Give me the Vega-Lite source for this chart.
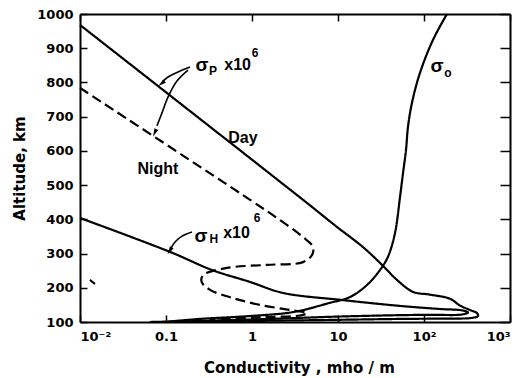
{
  "$schema": "https://vega.github.io/schema/vega-lite/v6.json",
  "width": 430,
  "height": 308,
  "autosize": {"type": "none"},
  "padding": {"left": 80, "top": 14, "right": 16, "bottom": 56},
  "background": "white",
  "config": {
    "view": {"stroke": null},
    "axis": {
      "domainColor": "black", "domainWidth": 2, "tickColor": "black", "tickWidth": 1.5,
      "grid": false, "labelColor": "black", "labelFont": "DejaVu Sans", "labelFontWeight": "bold",
      "labelFontSize": 13, "titleFont": "DejaVu Sans", "titleFontWeight": "bold",
      "titleFontSize": 15, "titleColor": "black"
    }
  },
  "datasets": {
    "curves": [
      {"s": "day", "c": 0.01, "a": 968}, {"s": "day", "c": 3.92, "a": 457}, {"s": "day", "c": 9.7, "a": 378},
      {"s": "day", "c": 19.5, "a": 319}, {"s": "day", "c": 32.5, "a": 267}, {"s": "day", "c": 48.5, "a": 223},
      {"s": "day", "c": 74.5, "a": 188}, {"s": "day", "c": 117.5, "a": 180}, {"s": "day", "c": 200, "a": 168},
      {"s": "day", "c": 262, "a": 148}, {"s": "day", "c": 343, "a": 135}, {"s": "day", "c": 413, "a": 126},
      {"s": "day", "c": 425, "a": 117.5}, {"s": "day", "c": 362, "a": 112}, {"s": "day", "c": 160, "a": 110},
      {"s": "day", "c": 52.6, "a": 109}, {"s": "day", "c": 8.07, "a": 106}, {"s": "day", "c": 0.95, "a": 103},
      {"s": "day", "c": 0.105, "a": 100},
      {"s": "hall", "c": 0.01, "a": 404}, {"s": "hall", "c": 0.111, "a": 305}, {"s": "hall", "c": 0.343, "a": 252},
      {"s": "hall", "c": 0.95, "a": 217}, {"s": "hall", "c": 2.29, "a": 185}, {"s": "hall", "c": 11.4, "a": 164},
      {"s": "hall", "c": 52.6, "a": 147}, {"s": "hall", "c": 153, "a": 138}, {"s": "hall", "c": 277, "a": 134},
      {"s": "hall", "c": 325, "a": 128}, {"s": "hall", "c": 277, "a": 122}, {"s": "hall", "c": 117.5, "a": 121},
      {"s": "hall", "c": 52.6, "a": 120}, {"s": "hall", "c": 10.5, "a": 116}, {"s": "hall", "c": 1.62, "a": 109},
      {"s": "hall", "c": 0.248, "a": 103}, {"s": "hall", "c": 0.105, "a": 100},
      {"s": "sigma0", "c": 185, "a": 1000}, {"s": "sigma0", "c": 127, "a": 924}, {"s": "sigma0", "c": 89.8, "a": 828},
      {"s": "sigma0", "c": 72.4, "a": 740}, {"s": "sigma0", "c": 65.1, "a": 670}, {"s": "sigma0", "c": 61.8, "a": 603},
      {"s": "sigma0", "c": 57.0, "a": 535}, {"s": "sigma0", "c": 52.6, "a": 465}, {"s": "sigma0", "c": 46, "a": 360},
      {"s": "sigma0", "c": 38, "a": 290}, {"s": "sigma0", "c": 30.8, "a": 252}, {"s": "sigma0", "c": 21.7, "a": 208},
      {"s": "sigma0", "c": 13.8, "a": 173}, {"s": "sigma0", "c": 8.07, "a": 156}, {"s": "sigma0", "c": 3.0, "a": 129},
      {"s": "sigma0", "c": 0.95, "a": 117.5}, {"s": "sigma0", "c": 0.248, "a": 109}, {"s": "sigma0", "c": 0.105, "a": 101.5},
      {"s": "sigma0", "c": 0.065, "a": 100},
      {"s": "night", "c": 0.01, "a": 784}, {"s": "night", "c": 0.95, "a": 457}, {"s": "night", "c": 1.95, "a": 404},
      {"s": "night", "c": 3.92, "a": 348}, {"s": "night", "c": 5.12, "a": 319}, {"s": "night", "c": 4.99, "a": 296},
      {"s": "night", "c": 3.92, "a": 275}, {"s": "night", "c": 1.49, "a": 267}, {"s": "night", "c": 0.51, "a": 258},
      {"s": "night", "c": 0.27, "a": 237}, {"s": "night", "c": 0.26, "a": 217}, {"s": "night", "c": 0.325, "a": 194},
      {"s": "night", "c": 0.6, "a": 170}, {"s": "night", "c": 1.24, "a": 150}, {"s": "night", "c": 2.77, "a": 135},
      {"s": "night", "c": 4.37, "a": 126}, {"s": "night", "c": 3.61, "a": 119}, {"s": "night", "c": 1.62, "a": 114.6},
      {"s": "night", "c": 0.785, "a": 111.7}, {"s": "night", "c": 0.325, "a": 106},
      {"s": "stray", "c": 0.01306, "a": 222.8}, {"s": "stray", "c": 0.01493, "a": 211}
    ],
    "arrows": [
      {"s": "a1", "c": 0.190, "a": 845}, {"s": "a1", "c": 0.1378, "a": 830.5}, {"s": "a1", "c": 0.1054, "a": 816}, {"s": "a1", "c": 0.0923, "a": 804},
      {"s": "a2", "c": 0.1803, "a": 836}, {"s": "a2", "c": 0.134, "a": 804}, {"s": "a2", "c": 0.1054, "a": 757}, {"s": "a2", "c": 0.0898, "a": 711}, {"s": "a2", "c": 0.0785, "a": 673},
      {"s": "a3", "c": 0.2004, "a": 363}, {"s": "a3", "c": 0.1535, "a": 351}, {"s": "a3", "c": 0.1274, "a": 334}, {"s": "a3", "c": 0.1143, "a": 316}
    ],
    "heads": [
      {"s": "a1", "c": 0.0898, "a": 798},
      {"s": "a2", "c": 0.0745, "a": 655},
      {"s": "a3", "c": 0.1114, "a": 310}
    ],
    "sigmas": [
      {"t": "σ", "c": 0.2624, "a": 850}, {"t": "σ", "c": 0.255, "a": 350}, {"t": "σ", "c": 141.6, "a": 847}
    ],
    "labels": [
      {"t": "x10", "c": 0.68, "a": 851},
      {"t": "x10", "c": 0.66, "a": 360},
      {"t": "Day", "c": 0.785, "a": 638}, {"t": "Night", "c": 0.0807, "a": 547}
    ],
    "scripts": [
      {"t": "P", "c": 0.352, "a": 833}, {"t": "6", "c": 1.084, "a": 886},
      {"t": "H", "c": 0.361, "a": 342.5}, {"t": "6", "c": 1.143, "a": 404},
      {"t": "o", "c": 190, "a": 828}
    ]
  },
  "resolve": {"axis": {"x": "independent", "y": "independent"}},
  "layer": [
    {
      "data": {"name": "curves"},
      "mark": {"type": "line", "strokeWidth": 2.2, "color": "black", "interpolate": "catmull-rom"},
      "encoding": {
        "x": {"field": "c", "type": "quantitative",
          "scale": {"type": "log", "domain": [0.01, 1000]},
          "axis": {"orient": "bottom", "values": [0.01, 0.1, 1, 10, 100, 1000], "tickSize": -7, "labelPadding": 15,
            "labelExpr": "datum.value < 0.05 ? '10⁻²' : datum.value < 0.5 ? '0.1' : datum.value < 5 ? '1' : datum.value < 50 ? '10' : datum.value < 500 ? '10²' : '10³'",
            "title": "Conductivity ,  mho / m", "titleX": 219, "titleY": 50, "titleBaseline": "alphabetic"}},
        "y": {"field": "a", "type": "quantitative",
          "scale": {"domain": [100, 1000]},
          "axis": {"orient": "left", "values": [100, 200, 300, 400, 500, 600, 700, 800, 900, 1000], "format": "d", "tickSize": -7, "labelPadding": 14,
            "title": "Altitude,  km", "titleX": -56, "titleY": 154, "titleBaseline": "alphabetic", "titleAngle": -90}},
        "detail": {"field": "s"},
        "strokeDash": {"field": "s", "type": "nominal", "legend": null,
          "scale": {"domain": ["day", "hall", "sigma0", "night", "stray"], "range": [[1, 0], [1, 0], [1, 0], [10, 5], [1, 0]]}},
        "order": {"value": null}
      }
    },
    {
      "data": {"name": "arrows"},
      "mark": {"type": "line", "strokeWidth": 1.6, "color": "black", "interpolate": "catmull-rom"},
      "encoding": {
        "x": {"field": "c", "type": "quantitative", "axis": null},
        "y": {"field": "a", "type": "quantitative", "axis": null},
        "detail": {"field": "s"},
        "order": {"value": null}
      }
    },
    {
      "data": {"name": "heads"},
      "transform": [{"filter": "datum.s == 'a1'"}],
      "mark": {"type": "point", "shape": "M0,-1L0.45,0.7L-0.45,0.7Z", "filled": true, "color": "black", "opacity": 1, "size": 90, "angle": 232},
      "encoding": {"x": {"field": "c", "type": "quantitative", "axis": null}, "y": {"field": "a", "type": "quantitative", "axis": null}}
    },
    {
      "data": {"name": "heads"},
      "transform": [{"filter": "datum.s == 'a2'"}],
      "mark": {"type": "point", "shape": "M0,-1L0.45,0.7L-0.45,0.7Z", "filled": true, "color": "black", "opacity": 1, "size": 90, "angle": 204},
      "encoding": {"x": {"field": "c", "type": "quantitative", "axis": null}, "y": {"field": "a", "type": "quantitative", "axis": null}}
    },
    {
      "data": {"name": "heads"},
      "transform": [{"filter": "datum.s == 'a3'"}],
      "mark": {"type": "point", "shape": "M0,-1L0.45,0.7L-0.45,0.7Z", "filled": true, "color": "black", "opacity": 1, "size": 90, "angle": 212},
      "encoding": {"x": {"field": "c", "type": "quantitative", "axis": null}, "y": {"field": "a", "type": "quantitative", "axis": null}}
    },
    {
      "data": {"name": "sigmas"},
      "mark": {"type": "text", "font": "Liberation Sans", "fontWeight": "bold", "fontSize": 19, "color": "black", "align": "center", "baseline": "middle"},
      "encoding": {
        "x": {"field": "c", "type": "quantitative", "axis": null},
        "y": {"field": "a", "type": "quantitative", "axis": null},
        "text": {"field": "t"}
      }
    },
    {
      "data": {"name": "labels"},
      "mark": {"type": "text", "font": "Liberation Sans", "fontWeight": "bold", "fontSize": 16, "color": "black", "align": "center", "baseline": "middle"},
      "encoding": {
        "x": {"field": "c", "type": "quantitative", "axis": null},
        "y": {"field": "a", "type": "quantitative", "axis": null},
        "text": {"field": "t"}
      }
    },
    {
      "data": {"name": "scripts"},
      "mark": {"type": "text", "font": "Liberation Sans", "fontWeight": "bold", "fontSize": 12, "color": "black", "align": "center", "baseline": "middle"},
      "encoding": {
        "x": {"field": "c", "type": "quantitative", "axis": null},
        "y": {"field": "a", "type": "quantitative", "axis": null},
        "text": {"field": "t"}
      }
    },
    {
      "data": {"name": "curves"},
      "mark": {"type": "point", "opacity": 0},
      "encoding": {
        "x": {"field": "c", "type": "quantitative",
          "axis": {"orient": "top", "values": [0.01, 0.1, 1, 10, 100, 1000], "tickSize": -7, "labels": false, "title": null}},
        "y": {"field": "a", "type": "quantitative",
          "axis": {"orient": "right", "values": [100, 200, 300, 400, 500, 600, 700, 800, 900, 1000], "tickSize": -10, "labels": false, "title": null}}
      }
    }
  ]
}
